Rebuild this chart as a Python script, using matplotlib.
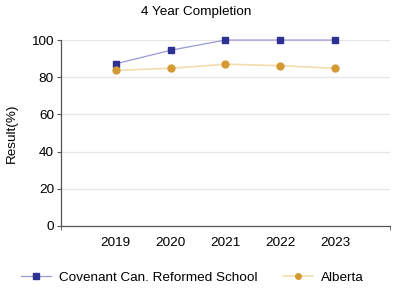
import matplotlib
matplotlib.use("Agg")
import matplotlib.pyplot as plt
from matplotlib.lines import Line2D

plt.rcParams['font.family'] = ['Liberation Sans', 'DejaVu Sans']

years = ["2019", "2020", "2021", "2022", "2023"]
school = [87.2, 94.5, 100.0, 100.0, 100.0]
alberta = [83.7, 84.8, 87.0, 86.2, 84.8]
yticks = [0, 20, 40, 60, 80, 100]

FS = 9.7
fig = plt.figure(figsize=(3.93, 2.91), dpi=100)
ax = fig.add_axes([0.155, 0.2234, 0.837, 0.639])

x = list(range(1, len(years) + 1))
ax.plot(x, school, color='#9999d6', lw=0.9, marker='s', ms=5,
        mfc='#2e3192', mec='#2e3192', zorder=3, clip_on=False)
ax.plot(x, alberta, color='#f2dcb0', lw=1.2, marker='o', ms=5,
        mfc='#d49a35', mec='#d49a35', zorder=3, clip_on=False)

ax.set_xlim(0, len(years) + 1)
ax.set_ylim(0, 100)
ax.set_xticks(x)
ax.set_xticklabels(years, fontsize=FS)
ax.tick_params(axis='x', length=0, pad=8)
ax.set_xticks([0, len(years) + 1], minor=True)
ax.tick_params(axis='x', which='minor', length=3, color='#555555')
ax.set_yticks(yticks)
ax.set_yticklabels([str(v) for v in yticks], fontsize=FS)
ax.tick_params(axis='y', length=3, color='#555555', pad=2)
ax.grid(axis='y', color='#e6e6e6', lw=0.9)
ax.set_axisbelow(True)
for s in ['top', 'right']:
    ax.spines[s].set_visible(False)
for s in ['left', 'bottom']:
    ax.spines[s].set_color('#555555')
    ax.spines[s].set_linewidth(0.9)

ax.set_ylabel("Result(%)", fontsize=FS, labelpad=10)
fig.text(0.5, 0.958, "4 Year Completion", ha='center', va='center', fontsize=FS)

handles = [
    Line2D([], [], color='#9999d6', lw=0.9, marker='s', ms=4, mfc='#2e3192', mec='#2e3192'),
    Line2D([], [], color='#f2dcb0', lw=1.2, marker='o', ms=4, mfc='#d49a35', mec='#d49a35'),
]
fig.legend(handles, ["Covenant Can. Reformed School", "Alberta"], loc='center',
           bbox_to_anchor=(0.49, 0.045), ncol=2, frameon=False, fontsize=FS,
           handlelength=2.2, columnspacing=1.9, handletextpad=0.6)

fig.savefig("out.png", dpi=100)
